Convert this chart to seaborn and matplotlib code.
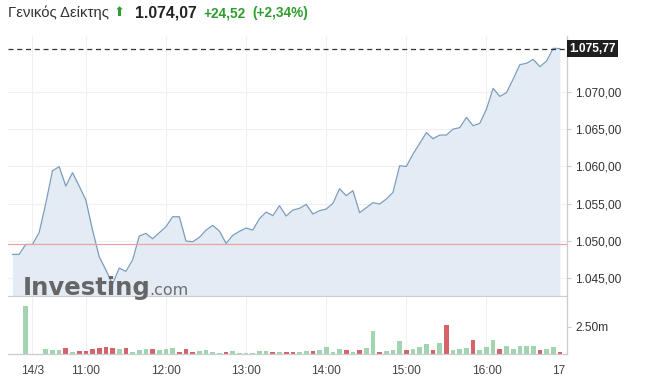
import numpy as np
import pandas as pd
import seaborn as sns
import matplotlib.pyplot as plt
from matplotlib.ticker import FuncFormatter
from matplotlib.transforms import Bbox, blended_transform_factory

# 5 minute bars, 10:05 .. 16:55 (minutes since midnight)
minutes = np.arange(605, 1020, 5)

price = [1048.20, 1048.20, 1049.54, 1049.54, 1051.11, 1055.04, 1059.41, 1059.95, 1057.36, 1059.15,
         1057.36, 1055.48, 1051.46, 1047.89, 1046.11, 1044.23, 1046.37, 1045.93, 1047.45, 1050.66,
         1051.02, 1050.30, 1051.11, 1051.91, 1053.25, 1053.25, 1049.99, 1049.90, 1050.48, 1051.46,
         1052.09, 1051.33, 1049.68, 1050.75, 1051.29, 1051.73, 1051.46, 1052.98, 1053.88, 1053.39,
         1054.73, 1053.34, 1054.14, 1054.37, 1054.90, 1053.61, 1054.06, 1054.28, 1055.04, 1057.00,
         1056.07, 1056.74, 1053.79, 1054.46, 1055.13, 1054.95, 1055.62, 1056.51, 1060.08, 1059.99,
         1061.65, 1063.08, 1064.51, 1063.70, 1064.19, 1064.19, 1064.99, 1065.18, 1066.56, 1065.44,
         1065.76, 1067.68, 1070.45, 1069.37, 1069.87, 1071.70, 1073.62, 1073.80, 1074.33, 1073.35,
         1074.11, 1075.81, 1075.77]

# volume in millions
volume = [0, 0, 4.39, 0, 0,
          0.49, 0.34, 0.34, 0.52, 0.15, 0.24, 0.24, 0.49, 0.52, 0.61,
          0.52, 0.43, 0.52, 0.15, 0.34, 0.43, 0.43, 0.34, 0.43, 0.52,
          0.18, 0.43, 0.15, 0.24, 0.34, 0.15, 0.12, 0.18, 0.24, 0.09,
          0.09, 0.12, 0.24, 0.24, 0.18, 0.18, 0.18, 0.18, 0.18, 0.24,
          0.27, 0.40, 0.61,
          0.15, 0.43, 0.34, 0.15, 0.34, 0.52, 2.07, 0.15, 0.24, 0.34,
          1.16, 0.34, 0.43, 0.61, 0.88, 0.34, 0.98, 2.65, 0.34, 0.43,
          0.52, 1.25, 0.34, 0.61, 1.25, 0.43, 0.70, 0.43, 0.70, 0.70,
          0.70, 0.34, 0.43, 0.61, 0.18]
vol_dir = list("uuuuu"
               "uuududdddd" "duduuuduuu" "ddduuuuduu" "uuuududduu" "duu"
               "uududuuduu" "uduuududuu" "uduuuduuuu" "uduud")

prev_close = 1049.55
last_price = 1075.77
price_ticks = [1045, 1050, 1055, 1060, 1065, 1070]
time_ticks = [620, 660, 720, 780, 840, 900, 960, 1020]
time_labels = ["14/3", "11:00", "12:00", "13:00", "14:00", "15:00", "16:00", "17:00"]

df = pd.DataFrame({"t": minutes, "price": price, "vol": volume, "dir": vol_dir})
bars = df[df["vol"] > 0]
dir_colors = {"u": "#a3d4b2", "d": "#d6636a"}

sns.set_style("white")
plt.rcParams["font.family"] = ["Liberation Sans", "DejaVu Sans"]


def gr(v, dec=2):
    s = f"{v:,.{dec}f}"
    return s.replace(",", "X").replace(".", ",").replace("X", ".")


W, H = 657, 390


def box(l, t, r, b):
    return [l / W, 1 - b / H, (r - l) / W, (b - t) / H]


fig = plt.figure(figsize=(W / 100, H / 100), dpi=100)
ax = fig.add_axes(box(8, 36, 567, 296))
axv = fig.add_axes(box(8, 297, 567, 354), sharex=ax)

ymin = 1042.63
ax.fill_between(df["t"], df["price"], ymin, color="#e3ecf5", lw=0)
sns.lineplot(data=df, x="t", y="price", ax=ax, color="#7c9cbd", lw=0.9)
ax.axhline(prev_close, color="#e6a4aa", lw=0.9)
ax.axhline(last_price, color="#333333", lw=0.9, ls=(0, (4, 3)))
ax.set_ylim(ymin, 1077.46)
ax.set_xlim(601.7, 1020.3)

ax.yaxis.tick_right()
ax.set_yticks(price_ticks)
ax.yaxis.set_major_formatter(FuncFormatter(lambda v, p: gr(v)))
ax.tick_params(axis="y", labelsize=8.6, labelcolor="#333333", length=3, color="#cccccc", pad=3)
ax.tick_params(axis="x", length=0, labelbottom=False)
ax.set_xticks(time_ticks)
ax.grid(True, color="#eef1f4", lw=0.8)
ax.set_xlabel("")
ax.set_ylabel("")
for s in ["top", "left"]:
    ax.spines[s].set_visible(False)
for s in ["bottom", "right"]:
    ax.spines[s].set_color("#c9cdd2")
    ax.spines[s].set_linewidth(0.9)

trans = blended_transform_factory(ax.transAxes, ax.transData)
ax.text(1.004, last_price, gr(last_price), transform=trans, ha="left", va="center",
        color="white", fontweight="bold", fontsize=8.6, clip_on=False,
        bbox=dict(boxstyle="square,pad=0.22", fc="#1f1f1f", ec="none"))

# volume panel
axv.bar(bars["t"], bars["vol"], width=3.5, color=bars["dir"].map(dir_colors), lw=0)
axv.set_ylim(0, 5.22)
axv.set_xlim(601.7, 1020.3)
axv.yaxis.tick_right()
axv.set_yticks([2.5])
axv.set_yticklabels(["2.50m"])
axv.set_xticks(time_ticks)
axv.set_xticklabels(time_labels)
axv.tick_params(axis="y", labelsize=8.6, labelcolor="#333333", length=3, color="#cccccc", pad=3)
axv.tick_params(axis="x", labelsize=8.6, labelcolor="#444444", length=4, color="#dddddd", pad=4)
axv.grid(True, axis="x", color="#eef1f4", lw=0.8)
axv.set_axisbelow(True)
for s in ["top", "left"]:
    axv.spines[s].set_visible(False)
for s in ["bottom", "right"]:
    axv.spines[s].set_color("#c9cdd2")
    axv.spines[s].set_linewidth(0.9)

clip = Bbox.from_extents(0, 0, 566, H)
for lbl in axv.get_xticklabels():
    lbl.set_clip_box(clip)
    lbl.set_clip_on(True)

# header
ty = 1 - 13 / H
fig.text(8 / W, ty, "Γενικός Δείκτης", fontsize=10.7, color="#333333", va="center")
fig.text(119 / W, ty, "⬆", fontsize=9.5, color="#2e9e2e", va="center", ha="center",
         family="DejaVu Sans")
fig.text(135 / W, ty, "1.074,07", fontsize=11.3, fontweight="bold", color="#222222", va="center")
fig.text(203 / W, ty, "+24,52", fontsize=9.8, fontweight="bold", color="#2e9e2e", va="center")
fig.text(252 / W, ty, "(+2,34%)", fontsize=9.8, fontweight="bold", color="#2e9e2e", va="center")

# watermark
fig.text(23 / W, 1 - 295 / H, "Investing", family="DejaVu Sans", fontweight="bold",
         fontsize=17.6, color="#666666", va="baseline")
fig.text(149 / W, 1 - 295 / H, ".com", family="DejaVu Sans", fontsize=11.5,
         color="#6d6d6d", va="baseline")

fig.savefig("out.png", dpi=100)
